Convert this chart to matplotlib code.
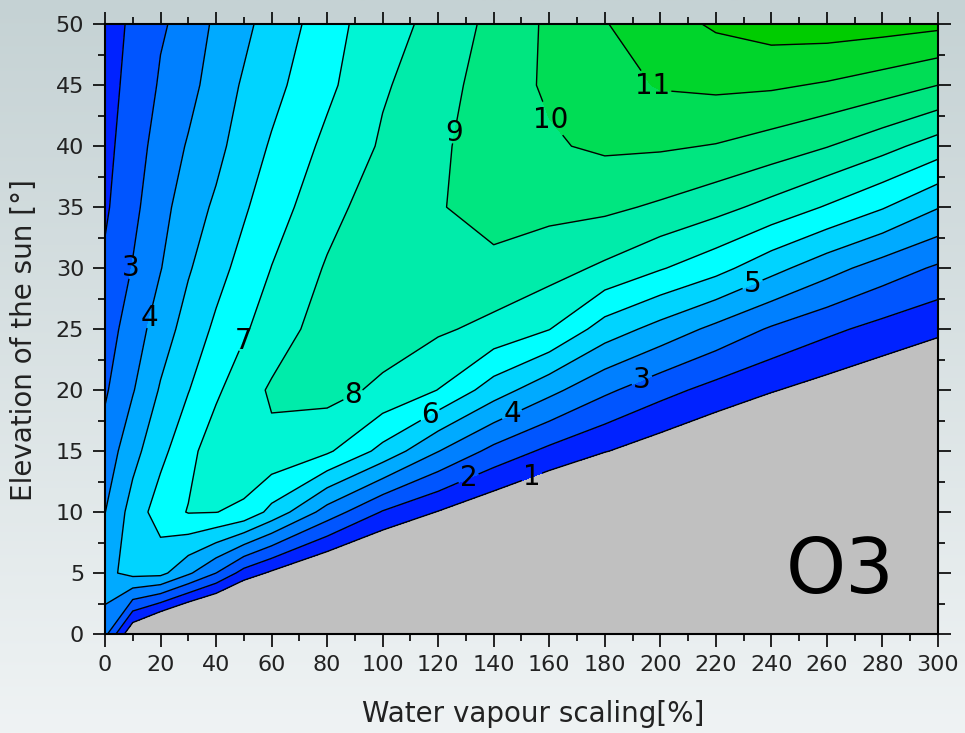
import numpy as np
import matplotlib
matplotlib.use("Agg")
import matplotlib.pyplot as plt
from matplotlib.colors import LinearSegmentedColormap
from matplotlib.ticker import MultipleLocator

# grid of the O3 result: water vapour scaling [%] x elevation of the sun [deg]
scaling = [0, 10, 20, 30, 40, 50, 60, 80, 100, 120, 140, 160, 180, 200, 220, 240, 260, 280, 300]
elevation = [0, 5, 10, 15, 20, 25, 30, 35, 40, 45, 50]

# one row per elevation, one column per scaling step
o3 = np.array([
    [3.30, 0.00, -1.50, -2.50, -3.00, -3.50, -4.00, -4.50, -5.00, -6.00, -7.00, -8.00, -9.00, -10.0, -11.0, -12.0, -13.0, -14.0, -15.0],
    [4.75, 5.30, 5.29, 4.17, 3.00, 1.60, 0.82, -0.40, -1.20, -2.00, -3.00, -4.00, -5.30, -6.00, -7.20, -8.30, -9.00, -10.0, -11.0],
    [3.98, 5.40, 6.50, 7.05, 7.02, 6.75, 5.70, 3.57, 1.92, 0.95, 0.10, -0.63, -1.60, -2.40, -3.50, -4.60, -5.00, -6.00, -7.00],
    [3.39, 4.67, 5.72, 6.70, 7.55, 7.90, 7.80, 7.16, 5.70, 4.03, 2.70, 1.76, 1.05, 0.42, -0.15, -0.66, -1.03, -1.40, -2.00],
    [2.87, 3.93, 5.10, 5.96, 6.83, 7.60, 8.12, 8.35, 7.80, 6.98, 5.50, 4.29, 3.20, 2.35, 1.65, 1.07, 0.58, 0.15, -0.25],
    [2.52, 3.49, 4.50, 5.41, 6.18, 6.87, 7.50, 8.45, 8.50, 8.15, 7.72, 7.03, 5.54, 4.64, 3.74, 2.88, 2.23, 1.67, 1.20],
    [2.16, 3.05, 3.96, 4.90, 5.65, 6.34, 7.02, 8.10, 8.70, 8.70, 8.72, 8.40, 7.82, 7.08, 6.35, 5.33, 4.38, 3.55, 2.85],
    [1.85, 2.75, 3.67, 4.50, 5.17, 5.87, 6.55, 7.65, 8.55, 8.92, 9.45, 9.27, 9.21, 8.85, 8.34, 7.68, 6.91, 6.08, 5.05],
    [1.70, 2.55, 3.39, 4.09, 4.70, 5.50, 6.10, 7.24, 8.12, 8.80, 9.60, 9.90, 10.15, 10.12, 9.95, 9.56, 9.04, 8.35, 7.53],
    [1.55, 2.38, 3.10, 3.68, 4.45, 5.12, 5.70, 6.78, 7.90, 8.50, 9.60, 10.12, 10.60, 11.08, 11.20, 11.14, 10.90, 10.52, 10.00],
    [1.40, 2.23, 2.90, 3.28, 4.22, 4.75, 5.43, 6.47, 7.80, 8.15, 9.36, 10.15, 10.95, 11.60, 12.13, 12.45, 12.50, 12.40, 12.23],
])

levels = [-100, 1, 2, 3, 4, 5, 6, 7, 8, 9, 10, 11, 12, 100]
band_colors = ['#c0c0c0', '#0022ff', '#0055ff', '#0080ff', '#00aaff', '#00d4ff',
               '#00ffff', '#00f5d4', '#00ecaa', '#00e680', '#00dd55', '#00d52b', '#00cc00']

# (level, scaling, elevation) where each line gets its number
label_spots = [(3, 9.4, 30.0), (4, 16.9, 25.9), (7, 49.3, 24.1), (8, 90.0, 19.3),
               (9, 126.0, 41.1), (10, 159.5, 42.0), (11, 197.0, 44.8), (5, 233.0, 28.8),
               (3, 193.0, 21.0), (4, 146.6, 18.0), (6, 117.0, 18.0), (2, 130.7, 12.9),
               (1, 153.8, 12.9)]

fig = plt.figure(figsize=(9.65, 7.33), dpi=100)

# soft grey-blue backdrop
bg = fig.add_axes([0, 0, 1, 1], zorder=-10)
grad = np.linspace(0, 1, 256)[:, None]
bg.imshow(grad, aspect='auto', extent=[0, 1, 0, 1], origin='upper',
          cmap=LinearSegmentedColormap.from_list('bg', ['#c5d2d4', '#eff3f4']))
bg.axis('off')

ax = fig.add_axes([0.1088, 0.135, 0.8632, 0.832])
ax.contourf(scaling, elevation, o3, levels=levels, colors=band_colors)

# one line set per level so each number lands on its own line
for lev in levels[1:-1]:
    cs = ax.contour(scaling, elevation, o3, levels=[lev], colors='black', linewidths=1.0)
    spots = [(sx, sy) for l, sx, sy in label_spots if l == lev]
    if spots:
        texts = ax.clabel(cs, manual=spots, inline=True, fmt='%d',
                          fontsize=20, colors='black', inline_spacing=2)
        for t in texts:
            t.set_rotation(0)

ax.text(0.882, 0.102, 'O3', transform=ax.transAxes, fontsize=55,
        ha='center', va='center', color='black')

ax.set_xlim(0, 300)
ax.set_ylim(0, 50)
ax.xaxis.set_major_locator(MultipleLocator(20))
ax.xaxis.set_minor_locator(MultipleLocator(10))
ax.yaxis.set_major_locator(MultipleLocator(5))
ax.yaxis.set_minor_locator(MultipleLocator(2.5))
ax.tick_params(which='both', direction='out', top=True, right=True, width=1.2,
               colors='black', labelsize=16, labelcolor='#222222')
ax.tick_params(which='major', length=9, pad=6)
ax.tick_params(which='minor', length=5)
for sp in ax.spines.values():
    sp.set_linewidth(1.5)

ax.set_xlabel('Water vapour scaling[%]', fontsize=20, color='#222222')
ax.set_ylabel('Elevation of the sun [°]', fontsize=20, color='#222222')
ax.xaxis.set_label_coords(0.514, -0.108)
ax.yaxis.set_label_coords(-0.080, 0.482)

fig.savefig('out.png', dpi=100)
